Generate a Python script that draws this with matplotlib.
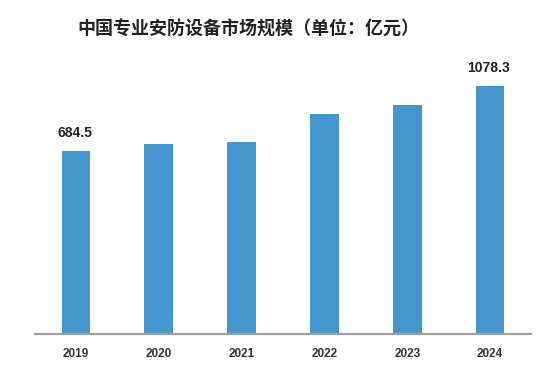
import matplotlib.pyplot as plt
import numpy as np

plt.rcParams['font.family'] = ['Liberation Sans', 'DejaVu Sans']

# Data (亿元)
years = ['2019', '2020', '2021', '2022', '2023', '2024']
values = [684.5, 725.1, 737.0, 908.7, 963.2, 1078.3]
labels = {0: '684.5', 5: '1078.3'}  # only first and last bars are annotated

bar_color = '#4596cf'
floor = -424  # the original axis does not start at zero
px_per_val = 1 / 6.058

fig = plt.figure(figsize=(5.5, 3.69), dpi=100)
ax_h_px = 294
ax = fig.add_axes([34.6 / 550, 35 / 369, 496.8 / 550, ax_h_px / 369])

x = np.arange(len(years))
vals = np.array(values)
ax.bar(x, vals - floor, bottom=floor, width=0.347, color=bar_color, zorder=2)

ax.set_xlim(-0.5, 5.5)
ax.set_ylim(floor, floor + ax_h_px / px_per_val)

for i, txt in labels.items():
    ax.annotate(txt, (x[i], vals[i]), xytext=(-1, 13),
                textcoords='offset points', ha='center', va='center',
                fontsize=10, fontweight='bold', color='#222222')

ax.set_xticks(x)
ax.set_xticklabels(years, fontsize=8.5, fontweight='bold', color='#333333')
ax.tick_params(axis='x', length=0, pad=10)
ax.set_yticks([])
for side in ['top', 'right', 'left']:
    ax.spines[side].set_visible(False)
ax.spines['bottom'].set_color('#a0a0a0')
ax.spines['bottom'].set_linewidth(1.6)
ax.spines['bottom'].set_zorder(3)

fig.text(77 / 550, 1 - 29 / 369, '中国专业安防设备市场规模（单位：亿元）',
         family=['Noto Sans CJK SC', 'DejaVu Sans'], fontsize=13,
         fontweight='bold', color='#222222', ha='left', va='center')

fig.savefig('out.png', dpi=100)
